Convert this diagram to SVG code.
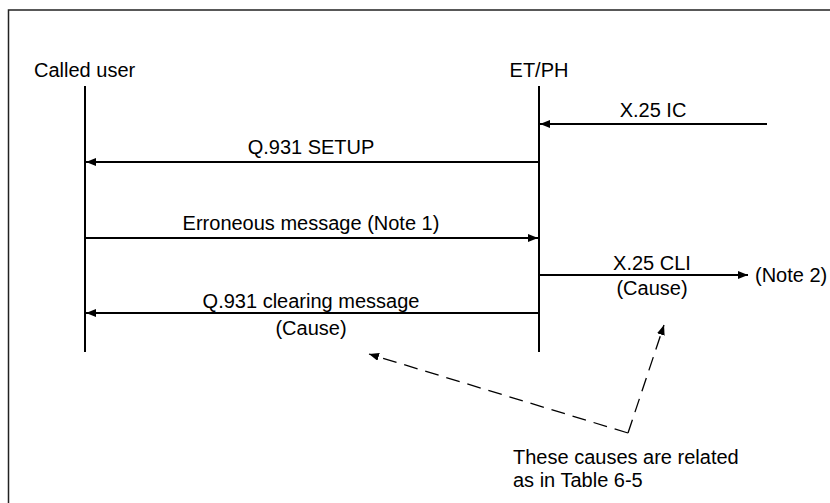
<svg xmlns="http://www.w3.org/2000/svg" width="830" height="503" viewBox="0 0 830 503">
<style>
text{font-family:"Liberation Sans",Arial,sans-serif;font-size:20px;fill:#000}
.mid{text-anchor:middle}
.life{stroke:#000;stroke-width:2;fill:none}
.msg{stroke:#000;stroke-width:2;fill:none;marker-end:url(#ah)}
.dash{stroke:#000;stroke-width:1.3;fill:none;stroke-dasharray:14 8;marker-end:url(#dh)}
</style>
<defs>
<marker id="ah" markerUnits="userSpaceOnUse" markerWidth="11" markerHeight="9" refX="10" refY="4" orient="auto">
<path d="M0,0 L10,4 L0,8 z" fill="#000"/>
</marker>
<marker id="dh" markerUnits="userSpaceOnUse" markerWidth="11" markerHeight="9" refX="10" refY="4" orient="auto">
<path d="M0,0 L10,4 L0,8 z" fill="#000"/>
</marker>
</defs>
<rect x="8.5" y="10" width="830" height="510" fill="none" stroke="#222" stroke-width="1.5"/>
<g id="called-user">
<text x="34" y="77" font-size="21">Called user</text>
<line class="life" x1="85" y1="86" x2="85" y2="352"/>
</g>
<g id="et-ph">
<text x="539" y="77" class="mid">ET/PH</text>
<line class="life" x1="539" y1="86" x2="539" y2="352"/>
</g>
<g id="connectors">
<line class="msg" x1="767" y1="124" x2="540" y2="124"/>
<line class="msg" x1="539" y1="162" x2="86" y2="162"/>
<line class="msg" x1="85" y1="238" x2="538" y2="238"/>
<line class="msg" x1="539" y1="275" x2="748" y2="275"/>
<line class="msg" x1="539" y1="313" x2="86" y2="313"/>
<line class="dash" x1="628" y1="433" x2="369" y2="354"/>
<line class="dash" x1="628" y1="433" x2="664" y2="325"/>
</g>
<g id="labels">
<text x="653" y="117" class="mid">X.25 IC</text>
<text x="311" y="154" class="mid">Q.931 SETUP</text>
<text x="311" y="230" class="mid" font-size="20.5">Erroneous message (Note 1)</text>
<text x="652" y="270" class="mid">X.25 CLI</text>
<text x="652" y="295" class="mid">(Cause)</text>
<text x="755" y="282">(Note 2)</text>
<text x="311" y="308" class="mid" font-size="20.5">Q.931 clearing message</text>
<text x="311" y="335" class="mid">(Cause)</text>
<text x="513" y="464" font-size="20.5">These causes are related</text>
<text x="513" y="487" font-size="20.5">as in Table 6-5</text>
</g>
</svg>
